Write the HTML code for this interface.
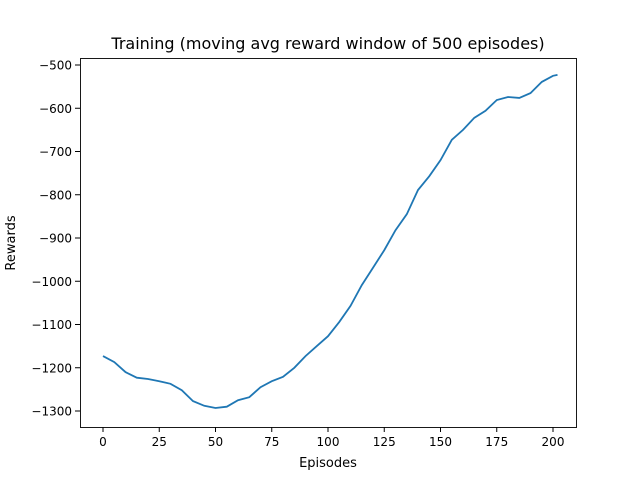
<!DOCTYPE html>
<html><head><meta charset="utf-8"><style>
body{margin:0;background:#fff}
text{font-family:"DejaVu Sans","Liberation Sans",sans-serif;fill:#000}
</style></head><body>
<svg id="chart" width="640" height="480">
<rect width="640" height="480" fill="#fff"/>
<text x="328" y="49" font-size="16" text-anchor="middle">Training (moving avg reward window of 500 episodes)</text>
<g id="xt"></g><g id="yt"></g>
<path id="line" fill="none" stroke="#1f77b4" stroke-width="1.8"/>
<rect x="80.5" y="58.5" width="496" height="369" fill="none" stroke="#000" stroke-width="0.9"/>
<text x="328" y="467" font-size="13" text-anchor="middle">Episodes</text>
<text x="15" y="243" font-size="13" text-anchor="middle" transform="rotate(-90 15 243)">Rewards</text>
</svg>
<script>
const episodes=[0,5,10,15,20,25,30,35,40,45,50,55,60,65,70,75,80,85,90,95,100,105,110,115,120,125,130,135,140,145,150,155,160,165,170,175,180,185,190,195,200,202];
const rewards=[-1173,-1187,-1210,-1223,-1226,-1231,-1237,-1252,-1277,-1288,-1293,-1290,-1275,-1268,-1245,-1231,-1221,-1200,-1173,-1150,-1127,-1094,-1057,-1009,-969,-928,-882,-845,-789,-757,-720,-673,-650,-622,-606,-581,-574,-576,-565,-539,-525,-523];
const xTicks=[0,25,50,75,100,125,150,175,200];
const yTicks=[-500,-600,-700,-800,-900,-1000,-1100,-1200,-1300];
const X=v=>103+(v-0)*2.25;
const Y=v=>65+(-500-v)*346/800;
const ns="http://www.w3.org/2000/svg";
const xt=document.getElementById('xt'),yt=document.getElementById('yt');
xTicks.forEach(t=>{
 const l=document.createElementNS(ns,'line');
 l.setAttribute('x1',X(t));l.setAttribute('x2',X(t));l.setAttribute('y1',427);l.setAttribute('y2',432);l.setAttribute('stroke','#000');
 
 
 xt.appendChild(l);
 const s=document.createElementNS(ns,'text');
 s.setAttribute('x',X(t));s.setAttribute('y',446);s.setAttribute('font-size','12');s.setAttribute('text-anchor','middle');s.textContent=t;
 
 
 xt.appendChild(s);
});
yTicks.forEach(t=>{
 const l=document.createElementNS(ns,'line');
 l.setAttribute('x1',75);l.setAttribute('x2',80);l.setAttribute('y1',Y(t));l.setAttribute('y2',Y(t));l.setAttribute('stroke','#000');
 
 
 yt.appendChild(l);
 const s=document.createElementNS(ns,'text');
 s.setAttribute('x',72);s.setAttribute('y',Y(t)+4.5);s.setAttribute('font-size','12');s.setAttribute('text-anchor','end');s.textContent=String(t).replace('-','\u2212');
 
 
 yt.appendChild(s);
});
document.getElementById('line').setAttribute('d',episodes.map((e,i)=>(i?'L':'M')+X(e).toFixed(1)+','+Y(rewards[i]).toFixed(1)).join(''));
</script>
</body></html>
